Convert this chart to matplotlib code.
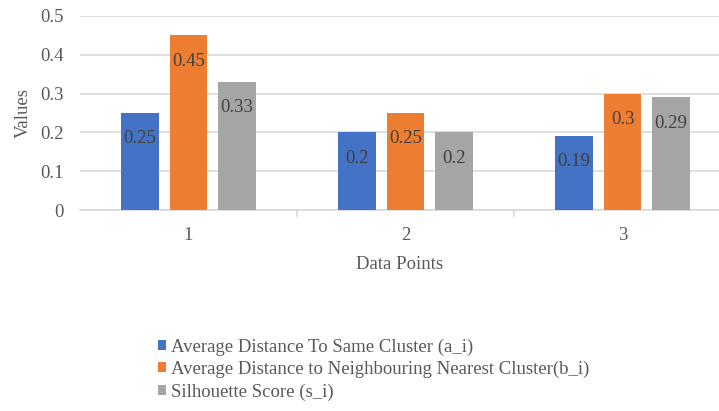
import matplotlib
matplotlib.use("Agg")
import matplotlib.pyplot as plt
import numpy as np

plt.rcParams['font.family'] = ['Liberation Serif', 'DejaVu Serif']

categories = ["1", "2", "3"]
series_names = [
    "Average Distance To Same Cluster (a_i)",
    "Average Distance to Neighbouring Nearest Cluster(b_i)",
    "Silhouette Score (s_i)",
]
a_i = [0.25, 0.2, 0.19]
b_i = [0.45, 0.25, 0.3]
s_i = [0.33, 0.2, 0.29]
colors = ["#4472C4", "#ED7D31", "#A5A5A5"]
yticks = [0, 0.1, 0.2, 0.3, 0.4, 0.5]

W, H = 719, 411
fig = plt.figure(figsize=(W / 100, H / 100), dpi=100)
ax = fig.add_axes([80 / W, 1 - 210 / H, (719 - 80) / W, (210 - 16) / H])

text_col = "#595959"
x = np.arange(len(categories))
width = 0.175
offset = 0.223
for i, (vals, name, c) in enumerate(zip([a_i, b_i, s_i], series_names, colors)):
    pos = x + (i - 1) * offset
    ax.bar(pos, vals, width, color=c, label=name, zorder=3)
    for p, v in zip(pos, vals):
        ax.text(p, v - 0.066, f"{v:g}", ha="center", va="center",
                fontsize=13.5, color="#404040", zorder=4)

ax.set_xlim(-0.5, 2.5 - 12 / 217)
ax.set_ylim(0, 0.5)
ax.set_yticks(yticks)
ax.set_yticklabels([f"{t:g}" for t in yticks], fontsize=13.5, color=text_col)
ax.yaxis.grid(True, color="#D9D9D9", linewidth=1.2, zorder=0)
ax.tick_params(axis="y", length=0, pad=12)

ax.set_xticks(x)
ax.set_xticklabels(categories, fontsize=13.5, color=text_col)
ax.tick_params(axis="x", length=0, pad=12)
for b in [0.5, 1.5]:
    ax.plot([b, b], [0, -0.015], color="#D9D9D9", lw=1.2, clip_on=False)

for s in ["top", "right", "left"]:
    ax.spines[s].set_visible(False)
ax.spines["bottom"].set_color("#D9D9D9")
ax.spines["bottom"].set_linewidth(1.2)

ax.set_ylabel("Values", fontsize=13.5, color=text_col)
ax.yaxis.set_label_coords((32 - 80) / 639, 0.5)
ax.set_xlabel("Data Points", fontsize=13.5, color=text_col, labelpad=9)

leg = fig.legend(loc="upper left", bbox_to_anchor=(150 / W, 1 - 331 / H),
                 frameon=False, fontsize=13.5, handlelength=0.45, handleheight=0.45,
                 handletextpad=0.25, labelspacing=0.27, borderaxespad=0)
for t in leg.get_texts():
    t.set_color(text_col)

fig.savefig("out.png", dpi=100)
